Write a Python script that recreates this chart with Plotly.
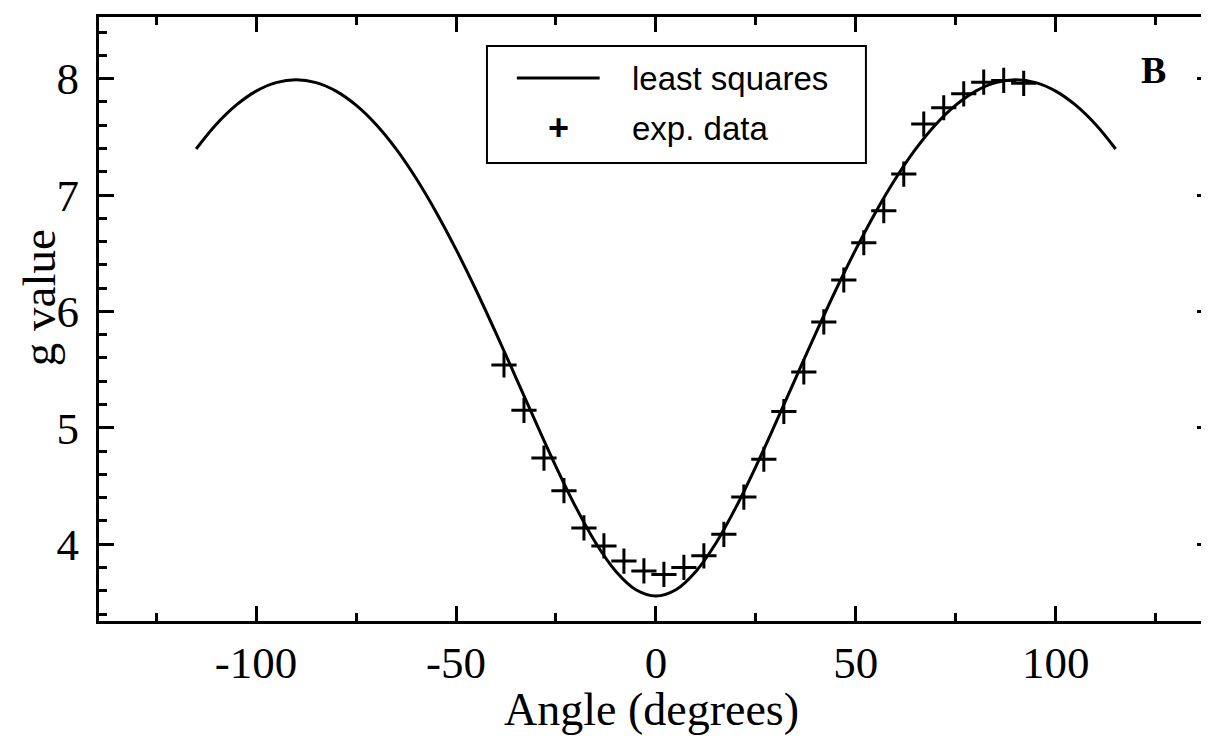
import plotly.graph_objects as go

# Least-squares fit curve (angle in degrees, g value)
fit_angle = [-115, -110, -105, -100, -95, -90, -85, -80, -75, -70, -65, -60, -55, -50,
             -45, -40, -35, -30, -25, -20, -15, -10, -5, 0, 5, 10, 15, 20, 25, 30, 35,
             40, 45, 50, 55, 60, 65, 70, 75, 80, 85, 90, 95, 100, 105, 110, 115]
fit_g = [7.396, 7.606, 7.772, 7.893, 7.966, 7.990, 7.966, 7.893, 7.772, 7.606, 7.396,
         7.144, 6.855, 6.533, 6.184, 5.813, 5.430, 5.044, 4.667, 4.316, 4.008, 3.766,
         3.609, 3.555, 3.609, 3.766, 4.008, 4.316, 4.667, 5.044, 5.430, 5.813, 6.184,
         6.533, 6.855, 7.144, 7.396, 7.606, 7.772, 7.893, 7.966, 7.990, 7.966, 7.893,
         7.772, 7.606, 7.396]

# Experimental data
exp_angle = [-38, -33, -28, -23, -18, -13, -8, -3, 2, 7, 12, 17, 22, 27, 32, 37, 42,
             47, 52, 57, 62, 67, 72, 77, 82, 87, 92]
exp_g = [5.54, 5.15, 4.74, 4.46, 4.14, 3.985, 3.855, 3.77, 3.74, 3.80, 3.90, 4.085,
         4.405, 4.73, 5.14, 5.48, 5.91, 6.27, 6.59, 6.865, 7.18, 7.61, 7.75, 7.87,
         7.97, 7.985, 7.96]

x_ticks = [-100, -50, 0, 50, 100]
y_ticks = [4, 5, 6, 7, 8]

SERIF = "Liberation Serif, Times New Roman, serif"
SANS = "Liberation Sans, Arial, Helvetica, sans-serif"

W, H = 1209, 736
L, R, T, B = 91, 2, 9, 123
PW, PH = W - L - R, H - T - B


def px(xp):
    return (xp - L) / PW


def py(yp):
    return (H - B - yp) / PH


fig = go.Figure()
fig.add_trace(go.Scatter(x=fit_angle, y=fit_g, mode="lines", name="least squares",
                         line=dict(color="black", width=3, shape="spline"),
                         showlegend=False))
fig.add_trace(go.Scatter(x=exp_angle, y=exp_g, mode="markers", name="exp. data",
                         marker=dict(symbol="cross-thin", size=18, color="black",
                                     line=dict(color="black", width=3)),
                         showlegend=False))

axis_common = dict(showgrid=False, zeroline=False, showline=True, linecolor="black",
                   linewidth=3, mirror="ticks", ticks="inside", tickcolor="black",
                   tickwidth=2.5, ticklen=15,
                   tickfont=dict(family=SERIF, size=45, color="black"))

fig.update_xaxes(range=[-139.3, 139.1], tickvals=x_ticks, ticktext=[str(v) for v in x_ticks],
                 minor=dict(dtick=25, tick0=0, ticks="inside", ticklen=8, tickwidth=2.5,
                            tickcolor="black"),
                 **axis_common)
fig.update_yaxes(range=[3.34, 8.53], tickvals=y_ticks, ticktext=[str(v) for v in y_ticks],
                 ticklabelstandoff=8,
                 minor=dict(dtick=0.2, tick0=0, ticks="inside", ticklen=8, tickwidth=2.5,
                            tickcolor="black"),
                 **axis_common)

shapes = [
    dict(type="rect", xref="paper", yref="paper", x0=px(480), x1=px(860), y0=py(155), y1=py(38),
         line=dict(color="black", width=2), fillcolor="white", layer="above"),
    dict(type="line", xref="paper", yref="paper", x0=px(510), x1=px(593), y0=py(70), y1=py(70),
         line=dict(color="black", width=3)),
]

annotations = [
    dict(text="least squares", xref="paper", yref="paper", x=px(623), y=py(70),
         xanchor="left", yanchor="middle", showarrow=False,
         font=dict(family=SANS, size=33, color="black")),
    dict(text="exp. data", xref="paper", yref="paper", x=px(623), y=py(121),
         xanchor="left", yanchor="middle", showarrow=False,
         font=dict(family=SANS, size=33, color="black")),
    dict(text="<b>+</b>", xref="paper", yref="paper", x=px(552), y=py(119),
         xanchor="center", yanchor="middle", showarrow=False,
         font=dict(family=SANS, size=36, color="black")),
    dict(text="<b>B</b>", xref="paper", yref="paper", x=px(1148), y=py(62),
         xanchor="center", yanchor="middle", showarrow=False,
         font=dict(family=SERIF, size=38, color="black")),
    dict(text="Angle (degrees)", xref="paper", yref="paper", x=px(645), y=py(701),
         xanchor="center", yanchor="middle", showarrow=False,
         font=dict(family=SERIF, size=46, color="black")),
    dict(text="g value", xref="paper", yref="paper", x=px(31), y=py(290),
         xanchor="center", yanchor="middle", showarrow=False, textangle=-90,
         font=dict(family=SERIF, size=47, color="black")),
]

fig.update_layout(width=W, height=H, margin=dict(l=L, r=R, t=T, b=B),
                  paper_bgcolor="white", plot_bgcolor="white",
                  shapes=shapes, annotations=annotations, showlegend=False)

fig.write_html("out.html")
